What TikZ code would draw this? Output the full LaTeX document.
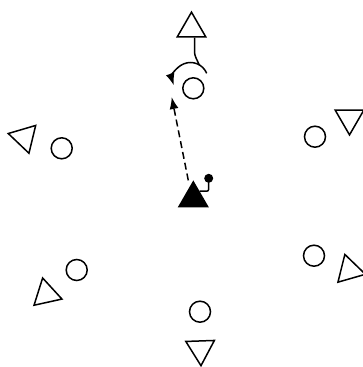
\documentclass[tikz,border=0pt]{standalone}
\usepackage{tikz}
\usetikzlibrary{positioning,arrows.meta,shapes.geometric,calc}

\tikzset{
  agent/.style={draw,circle,minimum size=21pt,inner sep=0pt},
  tri/.style={draw,regular polygon,regular polygon sides=3,minimum size=33pt,inner sep=0pt},
  headarrow/.style={-{Latex[length=12pt,width=9pt]}},
}

\begin{document}
\begin{tikzpicture}[x=1pt,y=1pt,line width=1.5pt]
\useasboundingbox (0,0) rectangle (363,367);
% ego robot in the middle
  \node[tri,fill=black] (ego) at (193.3,168.6) {};
  \node[circle,fill=black,inner sep=0pt,minimum size=9pt] (ant) at (208.7,188.7) {};
% the six others, circle + triangle
  \node[agent] (c1) at (193.3,278.7) {};   \node[tri] (t1) at (191.5,338.3) {};
  \node[agent] (c2) at (315,230.3) {};     \node[tri,rotate=180] (t2) at (349.5,248.6) {};
  \node[agent] (c3) at (314,111.3) {};     \node[tri,rotate=16] (t3) at (349.4,96.7) {};
  \node[agent] (c4) at (200,55.3) {};      \node[tri,rotate=182] (t4) at (200.4,17.8) {};
  \node[agent] (c5) at (76.7,97) {};       \node[tri,rotate=12.5] (t5) at (46.2,72.9) {};
  \node[agent] (c6) at (61.7,218.7) {};    \node[tri,rotate=76.4] (t6) at (24.3,229.6) {};
  \coordinate (aim) at (171.7,270);
  \coordinate (turn) at (190.5,287);
% antenna, heading and turn
  \draw[rounded corners=2pt] ($(ego.corner 1)!0.4!(ego.corner 3)$) -| (ant.center);
  \draw[headarrow,dash pattern=on 7pt off 4pt] ([xshift=-5pt]ego.corner 1) -- (aim);
  \draw[rounded corners=3pt] ([xshift=3pt]t1.side 2) -- ++(0,-17) -- ($(turn)+(60:17.5)$);
  \draw[headarrow] ($(turn)+(22.5:17.5)$) arc[start angle=22.5,end angle=198,radius=17.5];
\end{tikzpicture}
\end{document}
